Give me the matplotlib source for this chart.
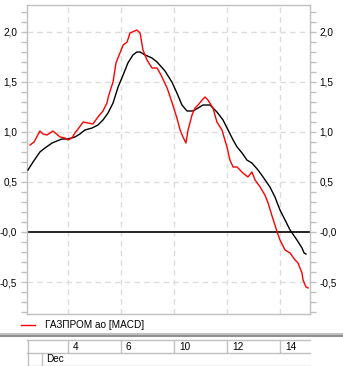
import matplotlib
matplotlib.use("Agg")
import matplotlib.pyplot as plt
from matplotlib.ticker import MultipleLocator, FixedLocator

# ── MACD line (red) and signal line (black); x in trading days from Dec 4 ──
macd_t = [-1.43, -1.28, -1.06, -0.94, -0.79, -0.57, -0.30, -0.11, 0.00, 0.15,
          0.26, 0.38, 0.57, 0.75, 0.94, 1.13, 1.32, 1.47, 1.53, 1.60, 1.70,
          1.81, 2.08, 2.23, 2.34, 2.60, 2.72, 2.83, 2.98, 3.17, 3.36, 3.51,
          3.74, 3.92, 4.11, 4.23, 4.34, 4.45, 4.53, 4.68, 4.79, 4.91, 5.06,
          5.17, 5.28, 5.47, 5.62, 5.81, 5.92, 6.00, 6.11, 6.23, 6.38, 6.60,
          6.79, 6.94, 7.06, 7.25, 7.43, 7.55, 7.70, 7.81, 7.89, 8.00, 8.19,
          8.38, 8.57, 8.68, 8.83, 8.87, 8.98, 9.06]
macd_v = [0.87, 0.90, 1.01, 0.98, 0.97, 1.01, 0.95, 0.94, 0.92, 0.94,
          0.99, 1.03, 1.10, 1.09, 1.08, 1.15, 1.21, 1.29, 1.36, 1.42, 1.50,
          1.69, 1.87, 1.90, 1.99, 2.02, 1.99, 1.82, 1.72, 1.64, 1.64, 1.57,
          1.44, 1.30, 1.14, 1.02, 0.95, 0.89, 1.02, 1.17, 1.24, 1.27, 1.32,
          1.35, 1.32, 1.24, 1.10, 1.02, 0.92, 0.85, 0.72, 0.65, 0.65, 0.59,
          0.55, 0.60, 0.52, 0.45, 0.37, 0.29, 0.16, 0.07, 0.00, -0.08, -0.18,
          -0.21, -0.28, -0.31, -0.41, -0.48, -0.55, -0.56]

signal_t = [-1.51, -1.32, -1.06, -0.87, -0.60, -0.42, -0.23, 0.00, 0.26, 0.45,
            0.64, 0.91, 1.13, 1.32, 1.51, 1.70, 1.89, 2.08, 2.26, 2.45, 2.60,
            2.72, 2.91, 3.17, 3.36, 3.66, 3.92, 4.11, 4.30, 4.49, 4.72, 4.91,
            5.09, 5.36, 5.62, 5.85, 6.04, 6.23, 6.38, 6.57, 6.75, 6.94, 7.17,
            7.36, 7.62, 7.81, 8.00, 8.19, 8.38, 8.64, 8.83, 8.91, 8.98]
signal_v = [0.62, 0.70, 0.80, 0.84, 0.89, 0.91, 0.93, 0.93, 0.95, 0.98,
            1.02, 1.04, 1.07, 1.12, 1.19, 1.29, 1.45, 1.57, 1.69, 1.77, 1.80,
            1.80, 1.77, 1.74, 1.70, 1.61, 1.50, 1.39, 1.27, 1.21, 1.21, 1.24,
            1.27, 1.27, 1.20, 1.12, 1.02, 0.92, 0.85, 0.79, 0.72, 0.69, 0.62,
            0.55, 0.45, 0.35, 0.22, 0.12, 0.02, -0.08, -0.16, -0.21, -0.22]

day_ticks = [0, 2, 4, 6, 8]
day_labels = ["4", "6", "10", "12", "14"]
month_label = "Dec"
y_ticks = [2.0, 1.5, 1.0, 0.5, 0.0, -0.5]
y_labels = ["2,0", "1,5", "1,0", "0,5", "-0,0", "-0,5"]
legend_text = "ГАЗПРОМ ао [MACD]"

W, H = 343, 366
GRID = "#dcdcdc"
FRAME = "#c0c0c0"
plt.rcParams["font.family"] = ["Liberation Sans", "DejaVu Sans"]

fig = plt.figure(figsize=(W / 100, H / 100), dpi=100)
fig.patch.set_facecolor("white")

# pixel-space helper: left/top/right/bottom in pixels
def px_axes(l, t, r, b, **kw):
    return fig.add_axes([l / W, 1 - b / H, (r - l) / W, (b - t) / H], **kw)

ax = px_axes(27, 5, 309.5, 314)
ax.set_xlim(-1.547, 9.113)
ax.set_ylim(-0.82, 2.27)

for s in ax.spines.values():
    s.set_color(FRAME)
    s.set_linewidth(1.0)

ax.yaxis.set_major_locator(FixedLocator(y_ticks))
ax.set_yticklabels(y_labels)
ax.yaxis.set_minor_locator(MultipleLocator(0.1))
ax.tick_params(axis="y", which="both", left=True, right=True,
               labelleft=True, labelright=True, direction="out",
               length=4, width=1, color=FRAME, labelsize=7.2, pad=3)
ax.set_xticks(day_ticks)
ax.tick_params(axis="x", which="both", bottom=False, labelbottom=False)

# dashed grid, solid zero line
for v in y_ticks:
    if v != 0.0:
        ax.axhline(v, color=GRID, lw=1, ls=(0, (4, 3)), zorder=1)
for d in day_ticks:
    ax.axvline(d, color=GRID, lw=1, ls=(0, (4, 3)), zorder=1)
ax.axhline(0.0, color="black", lw=1.2, zorder=2)

ax.plot(signal_t, signal_v, color="black", lw=1.0, zorder=3)
ax.plot(macd_t, macd_v, color="#ff0000", lw=1.0, zorder=4)

# overlay in pixel coordinates for legend, separator and date strip
ov = fig.add_axes([0, 0, 1, 1], zorder=-1)
ov.set_xlim(0, W)
ov.set_ylim(H, 0)
ov.axis("off")

ov.plot([21, 35], [325, 325], color="#ff0000", lw=1.0)
ov.text(45, 325.5, legend_text, fontsize=7.2, va="center", ha="left")

ov.plot([0, W], [333.5, 333.5], color="#b4b4b4", lw=1.2)
ov.plot([0, W], [335.5, 335.5], color="#7c7c7c", lw=1.2)

# date strip: gridline x positions mapped through the main axes
to_px = lambda d: (ax.transData.transform((d, 0))[0])
ov.plot([27, 309.5], [339.5, 339.5], color=FRAME, lw=1)
ov.plot([27, 309.5], [352.5, 352.5], color=FRAME, lw=1)
ov.plot([27, 309.5], [365.5, 365.5], color=FRAME, lw=1)
ov.plot([27.5, 27.5], [339.5, 366], color=FRAME, lw=1)
ov.plot([41.5, 41.5], [352.5, 366], color=FRAME, lw=1)
for d, lbl in zip(day_ticks, day_labels):
    xp = to_px(d)
    ov.plot([xp, xp], [339.5, 352.5], color=FRAME, lw=1)
    ov.text(xp + 5, 346.5, lbl, fontsize=7.2, va="center", ha="left")
ov.text(46, 359.5, month_label, fontsize=7.2, va="center", ha="left")

fig.savefig("out.png", dpi=100, facecolor="white")
